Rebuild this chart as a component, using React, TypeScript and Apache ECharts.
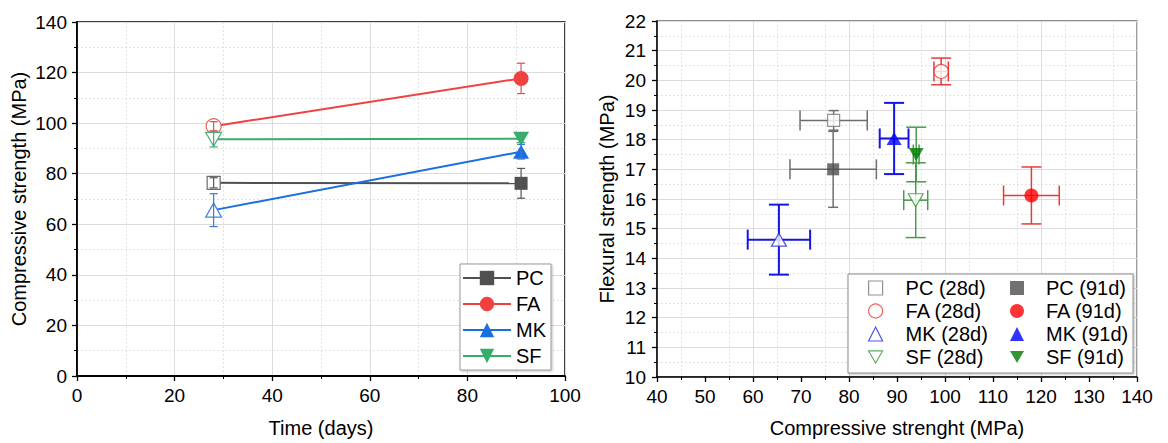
import React, { useEffect, useRef } from 'react';
import * as echarts from 'echarts';

// ---------- data ----------
const materials = ['PC', 'FA', 'MK', 'SF'];
const ages = [28, 91];

// Left chart: compressive strength vs time
const comp28 = [76.4, 98.8, 65.6, 93.6];
const compErr28 = [2.0, 1.8, 6.5, 3.0];
const comp91 = [76.2, 117.7, 88.7, 93.8];
const compErr91 = [5.9, 6.0, 2.9, 1.5];

// Right chart: flexural vs compressive strength
const xComp28 = [76.8, 99.2, 65.4, 93.9];
const xCompErr28 = [7.0, 1.5, 6.5, 2.5];
const flex28 = [18.65, 20.3, 14.63, 15.96];
const flexErr28 = [0.33, 0.45, 1.18, 1.26];
const xComp91 = [76.7, 118.0, 89.4, 94.0];
const xCompErr91 = [9.0, 5.8, 3.0, 0.6];
const flex91 = [17.0, 16.12, 18.04, 17.5];
const flexErr91 = [1.28, 0.96, 1.2, 0.92];

// ---------- styles ----------
const FONT = 'Arial, "Liberation Sans", sans-serif';
const lineColors = ['#505050', '#f14040', '#1a6fdf', '#37ad6b'];
const hollowLeft = ['#6a6a6a', '#e06464', '#4a86d6', '#4fb27a'];
const errLeft = ['#555555', '#e05050', '#3a7ad8', '#45a870'];
const c91 = ['#4d4d4d', '#ff0000', '#0000ff', '#007a00'];
const c28 = ['#777777', '#e83a3a', '#2a2ae0', '#3a9a3a'];
const errRight = ['#6e6e6e', '#e83a3a', '#1515e8', '#4a9a4a'];
const errRightW = [1.5, 1.5, 2, 1.5];
const yCapRight = [10, 20, 20, 20];
const xCapRight = [20, 20, 20, 20];

const DOWN = 'path://M0,0L10,0L5,8.66Z';
const symbolsLeft = ['rect', 'circle', 'triangle', DOWN];
const sizesLeft: any[] = [13, 15, [16, 14], [16, 14]];
const symbolsRight = ['rect', 'circle', 'triangle', DOWN];
const sizesRight: any[] = [12, 14, [15, 13], [15, 13]];

function yErrRender(color: string, cap: number, width: number) {
  return (params: any, api: any) => {
    const x = api.value(0), y = api.value(1), e = api.value(2);
    const t = api.coord([x, y + e]);
    const b = api.coord([x, y - e]);
    const h = cap / 2;
    const st = { stroke: color, lineWidth: width };
    return {
      type: 'group',
      children: [
        { type: 'line', shape: { x1: t[0], y1: t[1], x2: b[0], y2: b[1] }, style: st },
        { type: 'line', shape: { x1: t[0] - h, y1: t[1], x2: t[0] + h, y2: t[1] }, style: st },
        { type: 'line', shape: { x1: b[0] - h, y1: b[1], x2: b[0] + h, y2: b[1] }, style: st },
      ],
    };
  };
}

function xyErrRender(color: string, xCap: number, yCap: number, width: number) {
  return (params: any, api: any) => {
    const x = api.value(0), y = api.value(1), ex = api.value(2), ey = api.value(3);
    const t = api.coord([x, y + ey]);
    const b = api.coord([x, y - ey]);
    const l = api.coord([x - ex, y]);
    const r = api.coord([x + ex, y]);
    const hy = yCap / 2, hx = xCap / 2;
    const st = { stroke: color, lineWidth: width };
    return {
      type: 'group',
      children: [
        { type: 'line', shape: { x1: t[0], y1: t[1], x2: b[0], y2: b[1] }, style: st },
        { type: 'line', shape: { x1: t[0] - hy, y1: t[1], x2: t[0] + hy, y2: t[1] }, style: st },
        { type: 'line', shape: { x1: b[0] - hy, y1: b[1], x2: b[0] + hy, y2: b[1] }, style: st },
        { type: 'line', shape: { x1: l[0], y1: l[1], x2: r[0], y2: r[1] }, style: st },
        { type: 'line', shape: { x1: l[0], y1: l[1] - hx, x2: l[0], y2: l[1] + hx }, style: st },
        { type: 'line', shape: { x1: r[0], y1: r[1] - hx, x2: r[0], y2: r[1] + hx }, style: st },
      ],
    };
  };
}

const axisText = { fontFamily: FONT, fontSize: 19, color: '#000' };
const nameText = { fontFamily: FONT, fontSize: 20, color: '#000' };
const solidGrid = { show: true, lineStyle: { color: '#dcdcdc', width: 1, type: 'solid' as const } };
const dotGrid = { show: true, lineStyle: { color: '#e2e2e2', width: 1, type: [2, 2] as any } };

function baseAxis(extra: any) {
  return {
    axisLine: { show: true, onZero: false, lineStyle: { color: '#000', width: 1.8 } },
    axisTick: { show: true, inside: false, length: 5, lineStyle: { color: '#000', width: 1.3 } },
    minorTick: { show: true, splitNumber: 2, length: 3, lineStyle: { color: '#000', width: 1 } },
    axisLabel: { ...axisText, margin: 10 },
    nameTextStyle: nameText,
    nameLocation: 'middle',
    ...extra,
  };
}

export default function App() {
  const ref = useRef<HTMLDivElement>(null);
  useEffect(() => {
    if (!ref.current) return;
    const chart = echarts.init(ref.current, undefined, { renderer: 'svg' });

    const series: any[] = [];
    // left chart lines
    materials.forEach((m, i) => {
      series.push({
        type: 'line',
        name: m,
        xAxisIndex: 0,
        yAxisIndex: 0,
        symbol: symbolsLeft[i],
        symbolSize: sizesLeft[i],
        lineStyle: { color: lineColors[i], width: 2 },
        itemStyle: { color: lineColors[i] },
        data: [
          { value: [ages[0], comp28[i]], itemStyle: { color: '#fff', borderColor: hollowLeft[i], borderWidth: 1.2 } },
          { value: [ages[1], comp91[i]] },
        ],
        z: 2,
      });
      series.push({
        type: 'custom',
        name: m + ' err',
        xAxisIndex: 0,
        yAxisIndex: 0,
        renderItem: yErrRender(errLeft[i], 8, 1.2),
        encode: { x: 0, y: 1 },
        data: [
          [ages[0], comp28[i], compErr28[i]],
          [ages[1], comp91[i], compErr91[i]],
        ],
        z: 3,
      });
    });
    // right chart
    materials.forEach((m, i) => {
      series.push({
        type: 'custom',
        name: m + ' 28 err',
        xAxisIndex: 1,
        yAxisIndex: 1,
        renderItem: xyErrRender(errRight[i], xCapRight[i], yCapRight[i], errRightW[i]),
        encode: { x: 0, y: 1 },
        data: [[xComp28[i], flex28[i], xCompErr28[i], flexErr28[i]]],
        z: 2,
      });
      series.push({
        type: 'custom',
        name: m + ' 91 err',
        xAxisIndex: 1,
        yAxisIndex: 1,
        renderItem: xyErrRender(errRight[i], xCapRight[i], yCapRight[i], errRightW[i]),
        encode: { x: 0, y: 1 },
        data: [[xComp91[i], flex91[i], xCompErr91[i], flexErr91[i]]],
        z: 2,
      });
    });
    materials.forEach((m, i) => {
      series.push({
        type: 'scatter',
        name: `${m} (28d)`,
        xAxisIndex: 1,
        yAxisIndex: 1,
        symbol: symbolsRight[i],
        symbolSize: sizesRight[i],
        itemStyle: { color: '#fff', borderColor: c28[i], borderWidth: 1.2 },
        data: [[xComp28[i], flex28[i]]],
        z: 4,
      });
    });
    materials.forEach((m, i) => {
      series.push({
        type: 'scatter',
        name: `${m} (91d)`,
        xAxisIndex: 1,
        yAxisIndex: 1,
        symbol: symbolsRight[i],
        symbolSize: sizesRight[i],
        itemStyle: { color: c91[i] },
        data: [[xComp91[i], flex91[i]]],
        z: 4,
      });
    });

    const option: any = {
      animation: false,
      backgroundColor: '#fff',
      textStyle: { fontFamily: FONT },
      grid: [
        { left: 77, top: 22, width: 488, height: 359, show: true, borderColor: '#000', borderWidth: 1.5, containLabel: false },
        { left: 657, top: 21, width: 480, height: 358, show: true, borderColor: '#6a6a6a', borderWidth: 1.3, containLabel: false },
      ],
      xAxis: [
        baseAxis({
          gridIndex: 0, type: 'value', min: 0, max: 100, interval: 20,
          name: 'Time (days)', nameGap: 42,
          splitLine: solidGrid, minorSplitLine: dotGrid,
        }),
        baseAxis({
          gridIndex: 1, type: 'value', min: 40, max: 140, interval: 10,
          name: 'Compressive strenght (MPa)', nameGap: 41,
          axisLine: { show: true, onZero: false, lineStyle: { color: '#000', width: 1.5 } },
          splitLine: { show: false }, minorSplitLine: dotGrid,
        }),
        {
          gridIndex: 1, type: 'value', min: 40, max: 140, interval: 20, position: 'top',
          axisLine: { show: false }, axisTick: { show: false }, axisLabel: { show: false },
          splitLine: solidGrid,
        },
      ],
      yAxis: [
        baseAxis({
          gridIndex: 0, type: 'value', min: 0, max: 140, interval: 20,
          name: 'Compressive strength (MPa)', nameGap: 48,
          splitLine: solidGrid, minorSplitLine: dotGrid,
        }),
        baseAxis({
          gridIndex: 1, type: 'value', min: 10, max: 22, interval: 1,
          name: 'Flexural strength (MPa)', nameGap: 40,
          axisLine: { show: true, onZero: false, lineStyle: { color: '#000', width: 1.5 } },
          axisLabel: { ...axisText, margin: 11 },
          splitLine: solidGrid, minorSplitLine: dotGrid,
        }),
      ],
      legend: [
        {
          data: materials,
          orient: 'vertical',
          left: 460,
          top: 264,
          padding: [4, 5, 4, 2],
          itemWidth: 48,
          itemHeight: 18,
          itemGap: 6,
          backgroundColor: '#fff',
          borderColor: '#9a9a9a',
          borderWidth: 1,
          shadowColor: 'rgba(0,0,0,0.25)',
          shadowBlur: 2,
          shadowOffsetX: 1,
          shadowOffsetY: 1,
          textStyle: { fontFamily: FONT, fontSize: 20, color: '#000' },
          z: 5,
        },
        {
          data: materials.map((m, i) => ({
            name: `${m} (28d)`,
            itemStyle: { color: '#fff', borderColor: c28[i], borderWidth: 1.2 },
          })),
          orient: 'vertical',
          left: 868,
          top: 278,
          padding: 0,
          itemWidth: 14,
          itemHeight: 14,
          itemGap: 3,
          textStyle: { fontFamily: FONT, fontSize: 20, color: '#000', padding: [0, 0, 0, 18] },
          z: 5,
        },
        {
          data: materials.map((m) => `${m} (91d)`),
          orient: 'vertical',
          left: 1010,
          top: 278,
          padding: 0,
          itemWidth: 14,
          itemHeight: 14,
          itemGap: 3,
          textStyle: { fontFamily: FONT, fontSize: 20, color: '#000', padding: [0, 0, 0, 17] },
          z: 5,
        },
      ],
      graphic: [
        {
          type: 'rect',
          shape: { x: 848, y: 274, width: 285, height: 99 },
          style: {
            fill: '#fff', stroke: '#8c8c8c', lineWidth: 1,
            shadowColor: 'rgba(0,0,0,0.25)', shadowBlur: 2, shadowOffsetX: 1, shadowOffsetY: 1,
          },
          z: 1,
          silent: true,
        },
      ],
      series,
    };
    chart.setOption(option);
    return () => chart.dispose();
  }, []);
  return <div ref={ref} style={{ position: 'absolute', left: 0, top: 0, width: 1168, height: 443 }} />;
}
